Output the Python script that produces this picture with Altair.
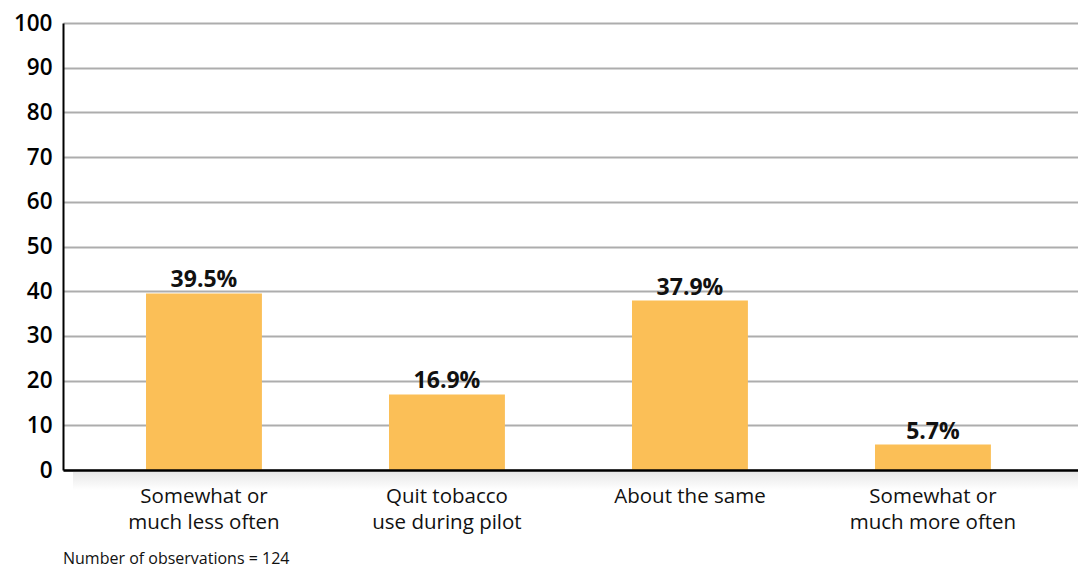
import altair as alt
import pandas as pd

categories = ["Somewhat or|much less often", "Quit tobacco|use during pilot",
              "About the same", "Somewhat or|much more often"]
values = [39.5, 16.9, 37.9, 5.7]
value_labels = ["39.5%", "16.9%", "37.9%", "5.7%"]
y_ticks = list(range(0, 101, 10))
footnote = "Number of observations = 124"

df = pd.DataFrame({"cat": categories, "val": values, "lab": value_labels})
W, H = 1015, 447
FONT = "Open Sans"

x = alt.X("cat:N", sort=categories,
          scale=alt.Scale(paddingInner=0.523, paddingOuter=0.35, align=0.488),
          axis=alt.Axis(title=None, labelAngle=0, labelExpr="split(datum.value, '|')",
                        labelFontSize=20.5, labelFont=FONT, labelColor="#111",
                        labelPadding=16, ticks=False, domainColor="#000",
                        domainWidth=2.5, labelLineHeight=26, grid=False, zindex=1))
y = alt.Y("val:Q", scale=alt.Scale(domain=[0, 100], nice=False),
          axis=alt.Axis(title=None, values=y_ticks, labelFontSize=22.5,
                        labelFont=FONT, labelFontWeight=600, labelColor="#000",
                        labelPadding=11, ticks=False, domainColor="#000",
                        domainWidth=2, gridColor="#ADADAD", gridWidth=2))

base = alt.Chart(df)

shadow = alt.Chart(pd.DataFrame({"a": [0]})).mark_rect(
    color=alt.Gradient(gradient="linear",
                       stops=[alt.GradientStop(color="#e6e6e6", offset=0),
                              alt.GradientStop(color="#ffffff", offset=1)],
                       x1=0, x2=0, y1=0, y2=1)
).encode(x=alt.value(10), x2=alt.value(W), y=alt.value(H + 1), y2=alt.value(H + 20))

bars = base.mark_bar(color="#FBBF57").encode(x=x, y=y)
texts = base.mark_text(dy=-1, baseline="bottom", fontSize=23, fontWeight="bold",
                       font=FONT, color="#111").encode(x=x, y=y, text="lab:N")

foot = alt.Chart(pd.DataFrame({"t": [footnote]})).mark_text(
    align="left", baseline="middle", fontSize=16, font=FONT, color="#111"
).encode(text="t:N", x=alt.value(0), y=alt.value(H + 89))

chart = alt.layer(shadow, bars, texts, foot).properties(
    width=W, height=H,
    autosize=alt.AutoSizeParams(type="none"),
    padding={"left": 55, "top": 15, "right": 0, "bottom": 100},
).configure_view(stroke=None)

chart.save("out.html", embed_options={"renderer": "svg", "actions": False})
